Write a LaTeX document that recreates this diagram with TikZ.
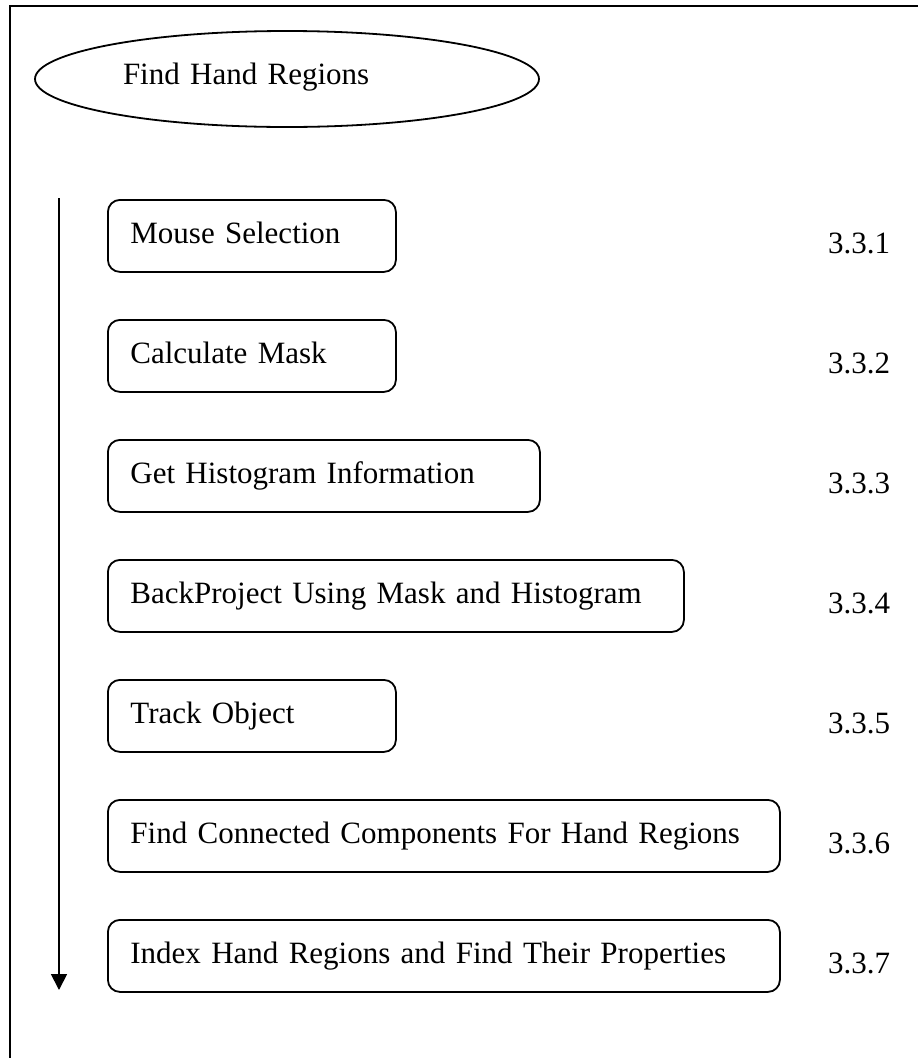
\documentclass[tikz,border=0pt]{standalone}
\usepackage{fontspec}
\setmainfont{Liberation Serif}
\usetikzlibrary{shapes.geometric,arrows.meta}

\begin{document}
\begin{tikzpicture}[x=1pt, y=-1pt,
    font=\fontsize{31}{37}\selectfont,
    every node/.append style={execute at begin node={\hyphenpenalty=10000}},
    block/.style={rectangle, draw, line width=1.8pt, rounded corners=12pt,
              anchor=north west, minimum height=72pt,
              inner xsep=22.5pt, inner ysep=0pt, text width=#1,
              text height=22pt, text depth=6pt, align=left},
    title/.style={ellipse, draw, line width=1.8pt,
              minimum width=504pt, minimum height=96pt, inner sep=0pt,
              text width=328pt, text height=19pt, text depth=9pt, align=left},
    step number/.style={anchor=base west, inner sep=0pt},
    arrow/.style={-{Triangle[length=16pt, width=16pt]}, line width=1.8pt}
]
    \clip (0,0) rectangle (918,1058);
    \draw[line width=2pt] (10,6) rectangle (940,1080);

    \node[title] (find) at (287,79) {Find Hand Regions};

    \node[block=243pt] (mouse)   at (107,199) {Mouse Selection};
    \node[block=243pt] (mask)    at (107,319) {Calculate Mask};
    \node[block=387pt] (hist)    at (107,439) {Get Histogram Information};
    \node[block=531pt] (back)    at (107,559) {BackProject Using Mask and Histogram};
    \node[block=243pt] (track)   at (107,679) {Track Object};
    \node[block=627pt] (conn)    at (107,799) {Find Connected Components For Hand Regions};
    \node[block=627pt] (index)   at (107,919) {Index Hand Regions and Find Their Properties};

    \node[step number] (n1) at (828,253) {3.3.1};
    \node[step number] (n2) at (828,373) {3.3.2};
    \node[step number] (n3) at (828,493) {3.3.3};
    \node[step number] (n4) at (828,613) {3.3.4};
    \node[step number] (n5) at (828,733) {3.3.5};
    \node[step number] (n6) at (828,853) {3.3.6};
    \node[step number] (n7) at (828,973) {3.3.7};

    \coordinate (flowstart) at (59,198);
    \coordinate (flowend)   at (59,990);
    \draw[arrow] (flowstart) -- (flowend);
\end{tikzpicture}
\end{document}
